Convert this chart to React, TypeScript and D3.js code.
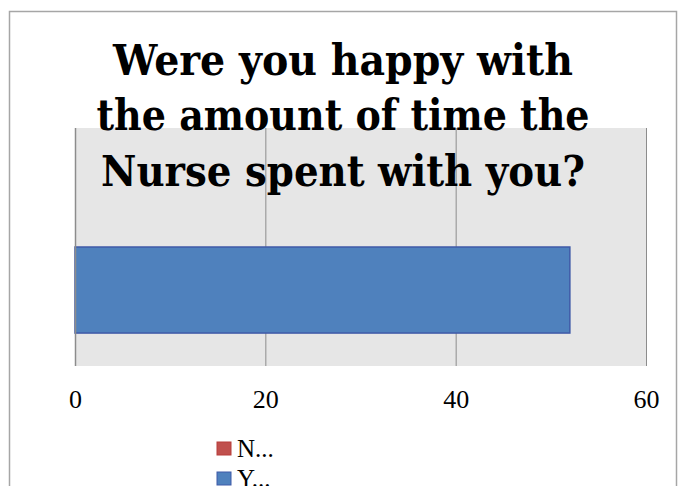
import { useEffect, useRef } from "react";
import * as d3 from "d3";

const W = 683,
  H = 486;
const margin = { top: 128, right: 37, bottom: 120, left: 75 };
const plotW = W - margin.left - margin.right,
  plotH = H - margin.top - margin.bottom;

// data
const series = ["N", "Y"];
const seriesLabels = ["N...", "Y..."];
const seriesValues = [0, 52];
const seriesColors = ["#C0504D", "#4F81BD"];
const seriesStrokes = ["#B83C3A", "#3F5AA8"];
const xTicks = [0, 20, 40, 60];
const titleLines = [
  "Were you happy with",
  "the amount of time the",
  "Nurse spent with you?",
];
const titleWidths = [460, 493, 484];
const titleBaselines = [75, 130, 186];

const App = () => {
  const ref = useRef<SVGSVGElement | null>(null);

  useEffect(() => {
    const svg = d3.select(ref.current);
    svg.selectAll("*").remove();

    // outer chart border
    svg
      .append("rect")
      .attr("x", 9.5)
      .attr("y", 11.5)
      .attr("width", 667)
      .attr("height", 500)
      .attr("fill", "white")
      .attr("stroke", "#A6A6A6")
      .attr("stroke-width", 1.5);

    const x = d3.scaleLinear().domain([0, 60]).range([0, plotW]);
    const y = d3
      .scaleBand()
      .domain(series)
      .range([0, plotH])
      .paddingInner(0)
      .paddingOuter(0.383);

    const g = svg
      .append("g")
      .attr("transform", "translate(" + margin.left + "," + margin.top + ")");

    g.append("rect")
      .attr("width", plotW)
      .attr("height", plotH)
      .attr("fill", "#E6E6E6");

    // gridlines
    g.selectAll("line.grid")
      .data(xTicks.slice(1))
      .enter()
      .append("line")
      .attr("class", "grid")
      .attr("x1", (d) => x(d) + 0.5)
      .attr("x2", (d) => x(d) + 0.5)
      .attr("y1", 0)
      .attr("y2", plotH)
      .attr("stroke", "#8C8C8C")
      .attr("stroke-width", 1);

    // bars
    g.selectAll("rect.bar")
      .data(series)
      .enter()
      .append("rect")
      .attr("class", "bar")
      .attr("x", 0)
      .attr("y", (d) => y(d)!)
      .attr("width", (_, i) => x(seriesValues[i]))
      .attr("height", y.bandwidth())
      .attr("fill", (_, i) => seriesColors[i])
      .attr("stroke", (_, i) => (seriesValues[i] > 0 ? seriesStrokes[i] : "none"))
      .attr("stroke-width", 1.5);

    // left axis line
    g.append("line")
      .attr("x1", 0.5)
      .attr("x2", 0.5)
      .attr("y1", 0)
      .attr("y2", plotH)
      .attr("stroke", "#8C8C8C")
      .attr("stroke-width", 1.5);

    // x axis
    const xAxis = g
      .append("g")
      .attr("transform", "translate(0," + plotH + ")")
      .call(d3.axisBottom(x).tickValues(xTicks).tickSize(0).tickPadding(24));
    xAxis.select(".domain").remove();
    xAxis
      .selectAll("text")
      .attr("font-family", "'Liberation Serif', serif")
      .attr("font-size", 26)
      .attr("fill", "#000");

    // title
    svg
      .append("g")
      .selectAll("text")
      .data(titleLines)
      .enter()
      .append("text")
      .attr("x", 343)
      .attr("y", (_, i) => titleBaselines[i])
      .attr("text-anchor", "middle")
      .attr("font-family", "'DejaVu Serif', serif")
      .attr("font-weight", "bold")
      .attr("font-size", 42)
      .attr("textLength", (_, i) => titleWidths[i])
      .attr("lengthAdjust", "spacingAndGlyphs")
      .attr("fill", "#000")
      .text((d) => d);

    // legend
    const legend = svg
      .append("g")
      .selectAll("g")
      .data(seriesLabels)
      .enter()
      .append("g")
      .attr("transform", (_, i) => "translate(217," + (442 + i * 30) + ")");
    legend
      .append("rect")
      .attr("width", 14)
      .attr("height", 13)
      .attr("fill", (_, i) => seriesColors[i])
      .attr("stroke", (_, i) => seriesStrokes[i])
      .attr("stroke-width", 1);
    legend
      .append("text")
      .attr("x", 20)
      .attr("y", 15)
      .attr("font-family", "'Liberation Serif', serif")
      .attr("font-size", 25)
      .attr("fill", "#000")
      .text((d) => d);
  }, []);

  return (
    <svg
      ref={ref}
      width={W}
      height={H}
      style={{ position: "absolute", left: 0, top: 0, background: "white" }}
    />
  );
};

export default App;
